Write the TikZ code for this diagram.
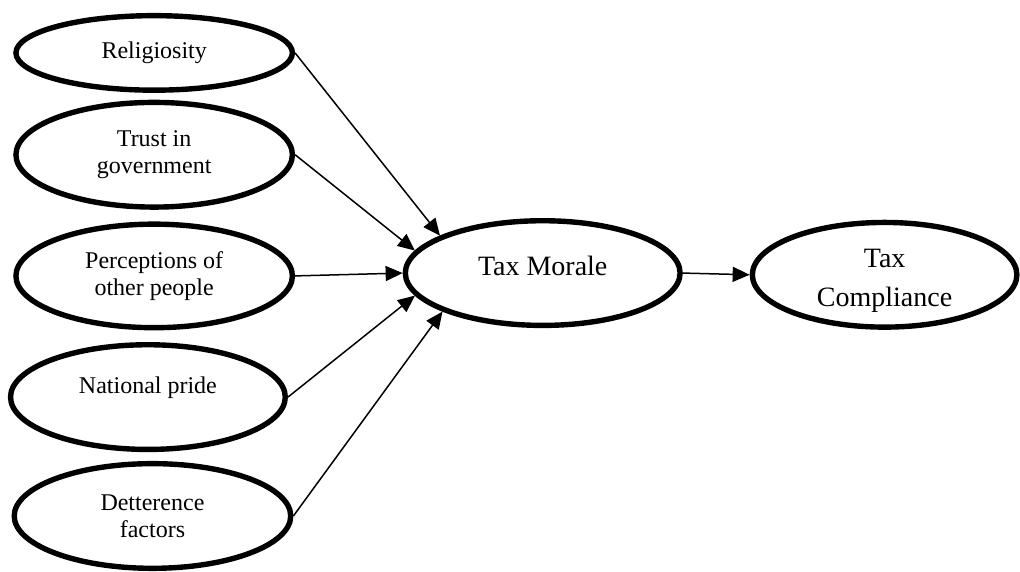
\documentclass[tikz,border=0pt]{standalone}
\usepackage{fontspec}
\setmainfont{Liberation Serif}
\usepackage{tikz}
\usetikzlibrary{shapes.geometric,arrows.meta}
\tikzset{
  factor/.style={ellipse, draw=black, line width=2.7pt, inner sep=0pt, align=center,
    minimum width=4.86cm, minimum height=1.84cm, font=\fontsize{12}{13.5}\selectfont},
  construct/.style={factor, font=\fontsize{14}{19.5}\selectfont},
  link/.style={draw=black, line width=0.75pt, -{Triangle[length=8.5pt,width=7.5pt]}},
}

\begin{document}
\begin{tikzpicture}
  \useasboundingbox (0,0) rectangle (17.93,-10.04);
  \node[factor,minimum height=1.31cm] (rel) at (2.71,-0.93) {Religiosity};
  \node[factor] (trust) at (2.71,-2.72) {Trust in\\government};
  \node[factor,minimum height=1.82cm] (perc) at (2.71,-4.85) {Perceptions of\\other people};
  \node[factor,minimum width=4.83cm] (natp) at (2.60,-6.98) {\raisebox{2pt}[0pt][0pt]{National pride}};
  \node[factor] (det) at (2.68,-9.07) {Detterence\\factors};
  \node[construct,minimum width=4.83cm,minimum height=1.84cm] (tm) at (9.54,-4.80) {\raisebox{-1pt}[0pt][0pt]{Tax Morale}};
  \node[construct,minimum width=4.65cm,minimum height=1.84cm] (tc) at (15.55,-4.83)
    {\raisebox{-16pt}[0pt][0pt]{\begin{tabular}[b]{@{}c@{}}Tax\\Compliance\end{tabular}}};
  \draw[link] (rel.east) -- (tm.160);
  \draw[link] (trust.east) -- (tm.170);
  \draw[link] (perc.east) -- (tm.180);
  \draw[link] (natp.east) -- (tm.190);
  \draw[link] (det.east) -- (tm.201);
  \draw[link] (tm.east) -- (tc.west);
\end{tikzpicture}
\end{document}
